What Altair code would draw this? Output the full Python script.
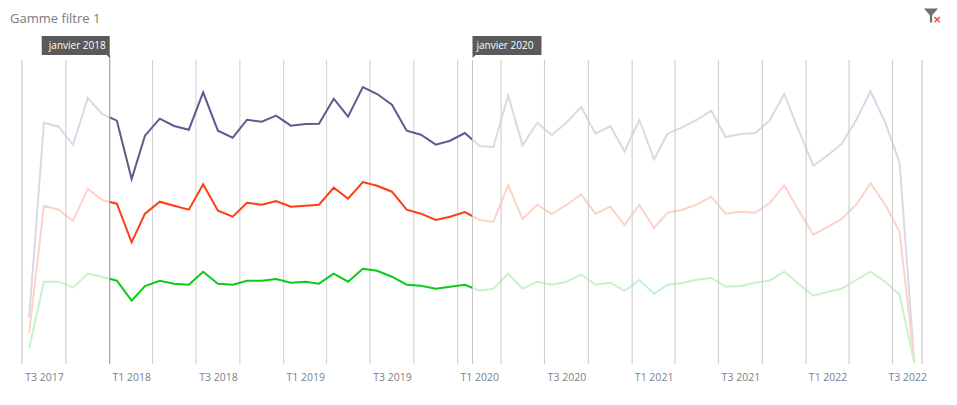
import altair as alt
import pandas as pd

FONT = "Open Sans"

start_year, start_month = 2017, 7
n = 62
months = [f"{start_year + (start_month - 1 + i) // 12}-{(start_month - 1 + i) % 12 + 1:02d}-16" for i in range(n)]

purple_y = [318,122.7,126.7,145,98,114,120.7,179,135.7,118.7,126,129.7,92.3,130.7,137.7,119.7,121.7,115.7,125.7,124,123.7,98.7,116.7,87,94,104.7,130.7,134.7,144.7,140.7,133,146,147,95.3,145.3,122.7,135,122.7,107,133.7,126,151.3,120,159.3,133.7,127.3,120,110.7,137,134,133,120.7,94,130,165.7,155,144,120,91.3,122.7,162.7,363]
red_y = [333,205.7,209.7,221,188.7,200,203.7,242.3,213.7,201.7,205.7,209.7,184.3,210.7,216.7,202.7,204.7,201,206.7,205.7,204.7,187.7,198.7,182,185.7,191.7,209.7,213.7,220,216.7,212,220,221.7,185.3,219,204.7,214,205,194.3,213.7,206.7,225,205,228,212.7,209.7,204.7,196.7,213.7,211.7,212.7,203.3,185.3,210,234.7,226.7,219,204.7,183.3,204.7,231.7,363]
green_y = [348.3,281.7,281.7,287.7,273.7,276.7,280.7,300.7,286,280.7,283.7,284.7,271.7,283.7,284.7,280.7,280.7,279,282.7,281.7,283.7,273.7,281.7,268.7,270.7,276.7,284.7,285.7,288.7,286.7,284.7,290.7,288.7,273.7,288.7,281.7,284.7,281.7,274.7,284.7,282.7,290.7,280,293.7,284.7,283,279.7,278,286.7,286,282.7,280.7,271.7,283.7,295.7,291.7,288.7,280,271.7,281.7,294.7,363]

series_names = ["A", "B", "C"]
series_colors = ["#5d5b8f", "#ff3c14", "#0acb16"]
to_val = lambda ys: [round(364 - y, 1) for y in ys]
rows = []
for name, ys in zip(series_names, [purple_y, red_y, green_y]):
    for d, v in zip(months, to_val(ys)):
        rows.append({"date": d, "value": v, "serie": name})
df = pd.DataFrame(rows)

grid_dates = ["2017-07-01","2017-10-01","2018-01-01","2018-04-01","2018-07-01","2018-10-01","2019-01-01","2019-04-01","2019-07-01","2019-10-01","2020-01-01","2020-02-01","2020-04-01","2020-07-01","2020-10-01","2021-01-01","2021-04-01","2021-07-01","2021-10-01","2022-01-01","2022-04-01","2022-07-01","2022-09-01"]
label_dates = ["2017-08-16","2018-02-15","2018-08-16","2019-02-15","2019-08-16","2020-02-15","2020-08-16","2021-02-15","2021-08-16","2022-02-15","2022-08-01"]
sel_start, sel_end = "2018-01-01", "2020-02-01"
dom_start, dom_end = "2017-07-01", "2022-09-01"

ms = lambda s: int(pd.Timestamp(s, tz="UTC").timestamp() * 1000)
xscale = alt.Scale(type="utc", domain=[ms(dom_start), ms(dom_end)])
yscale = alt.Scale(domain=[0, 304], nice=False)

grid_df = pd.DataFrame({"date": grid_dates})
x_plain = alt.X("date:T", scale=xscale, title=None, axis=alt.Axis(
    values=[ms(d) for d in label_dates], format="T%q %Y", ticks=False, domain=False, grid=False,
    labelColor="#7a7f88", labelFont=FONT, labelFontSize=10.5, labelPadding=8, labelOverlap=False))

rules = alt.Chart(grid_df).mark_rule(color="#cfcfcf", strokeWidth=1).encode(x=x_plain)

lines = alt.Chart(df).mark_line(strokeWidth=2, interpolate="linear").encode(
    x=x_plain,
    y=alt.Y("value:Q", scale=yscale, axis=None),
    color=alt.Color("serie:N", scale=alt.Scale(domain=series_names, range=series_colors), legend=None),
)

fade_df = pd.DataFrame({"date": [dom_start, sel_end], "end": [sel_start, dom_end]})
fade = alt.Chart(fade_df).mark_rect(color="white", opacity=0.77).encode(x=x_plain, x2="end:T")

outer = [d for d in grid_dates if d < sel_start or d > sel_end]
rules_top = alt.Chart(pd.DataFrame({"date": outer})).mark_rule(color="#cccccc", strokeWidth=1).encode(x=x_plain)
sel_rule = alt.Chart(pd.DataFrame({"date": [sel_start]})).mark_rule(color="#9a9a9a", strokeWidth=1).encode(
    x=x_plain, y=alt.value(-5), y2=alt.value(304))
sel_rule2 = alt.Chart(pd.DataFrame({"date": [sel_end]})).mark_rule(color="#c4c4c4", strokeWidth=1).encode(
    x=x_plain, y=alt.value(0), y2=alt.value(304))

box_w = 68
box_l = alt.Chart(pd.DataFrame({"date": [sel_start]})).mark_rect(
    width=box_w, height=19, xOffset=-box_w / 2, color="#5a5a5a").encode(x=x_plain, y=alt.value(-14.5))
box_r = alt.Chart(pd.DataFrame({"date": [sel_end]})).mark_rect(
    width=box_w + 1, height=19, xOffset=(box_w + 1) / 2, color="#5a5a5a").encode(x=x_plain, y=alt.value(-14.5))
tail_l = alt.Chart(pd.DataFrame({"date": [sel_start]})).mark_point(
    shape="M-1,0 L0,0 L0,1 Z", size=36, filled=True, opacity=1, color="#5a5a5a").encode(x=x_plain, y=alt.value(-5))
tail_r = alt.Chart(pd.DataFrame({"date": [sel_end]})).mark_point(
    shape="M1,0 L0,0 L0,1 Z", size=36, filled=True, opacity=1, color="#5a5a5a").encode(x=x_plain, y=alt.value(-5))
txt_l = alt.Chart(pd.DataFrame({"date": [sel_start], "t": ["janvier 2018"]})).mark_text(
    align="right", baseline="middle", dx=-4, font=FONT, fontSize=10, color="white").encode(
    x=x_plain, y=alt.value(-14.5), text="t:N")
txt_r = alt.Chart(pd.DataFrame({"date": [sel_end], "t": ["janvier 2020"]})).mark_text(
    align="left", baseline="middle", dx=4, font=FONT, fontSize=10, color="white").encode(
    x=x_plain, y=alt.value(-14.5), text="t:N")

title = alt.Chart(pd.DataFrame({"t": ["Gamme filtre 1"]})).mark_text(
    align="left", baseline="middle", font=FONT, fontSize=13, color="#7a7a80").encode(
    x=alt.value(-12), y=alt.value(-41), text="t:N")
funnel = alt.Chart(pd.DataFrame({"t": ["f"]})).mark_point(
    shape="M-0.5,-0.5 L0.5,-0.5 L0.08,-0.02 L0.08,0.5 L-0.08,0.5 L-0.08,-0.02 Z",
    size=784, filled=True, opacity=1, color="#6f6f6f").encode(x=alt.value(909), y=alt.value(-44.5))
cross = alt.Chart(pd.DataFrame({"t": ["×"]})).mark_text(
    font="DejaVu Sans", fontWeight="bold", fontSize=11, color="#e5484d", baseline="middle").encode(
    x=alt.value(915), y=alt.value(-40), text="t:N")

chart = alt.layer(
    rules, lines, fade, rules_top, sel_rule, sel_rule2, box_l, box_r, tail_l, tail_r, txt_l, txt_r, title, funnel, cross
).properties(
    width=900, height=304,
    padding={"left": 14, "top": 52, "right": 27, "bottom": 28},
    autosize=alt.AutoSizeParams(type="none"),
).configure_view(stroke=None)

chart.save("out.html", embed_options={"renderer": "svg", "actions": False})
